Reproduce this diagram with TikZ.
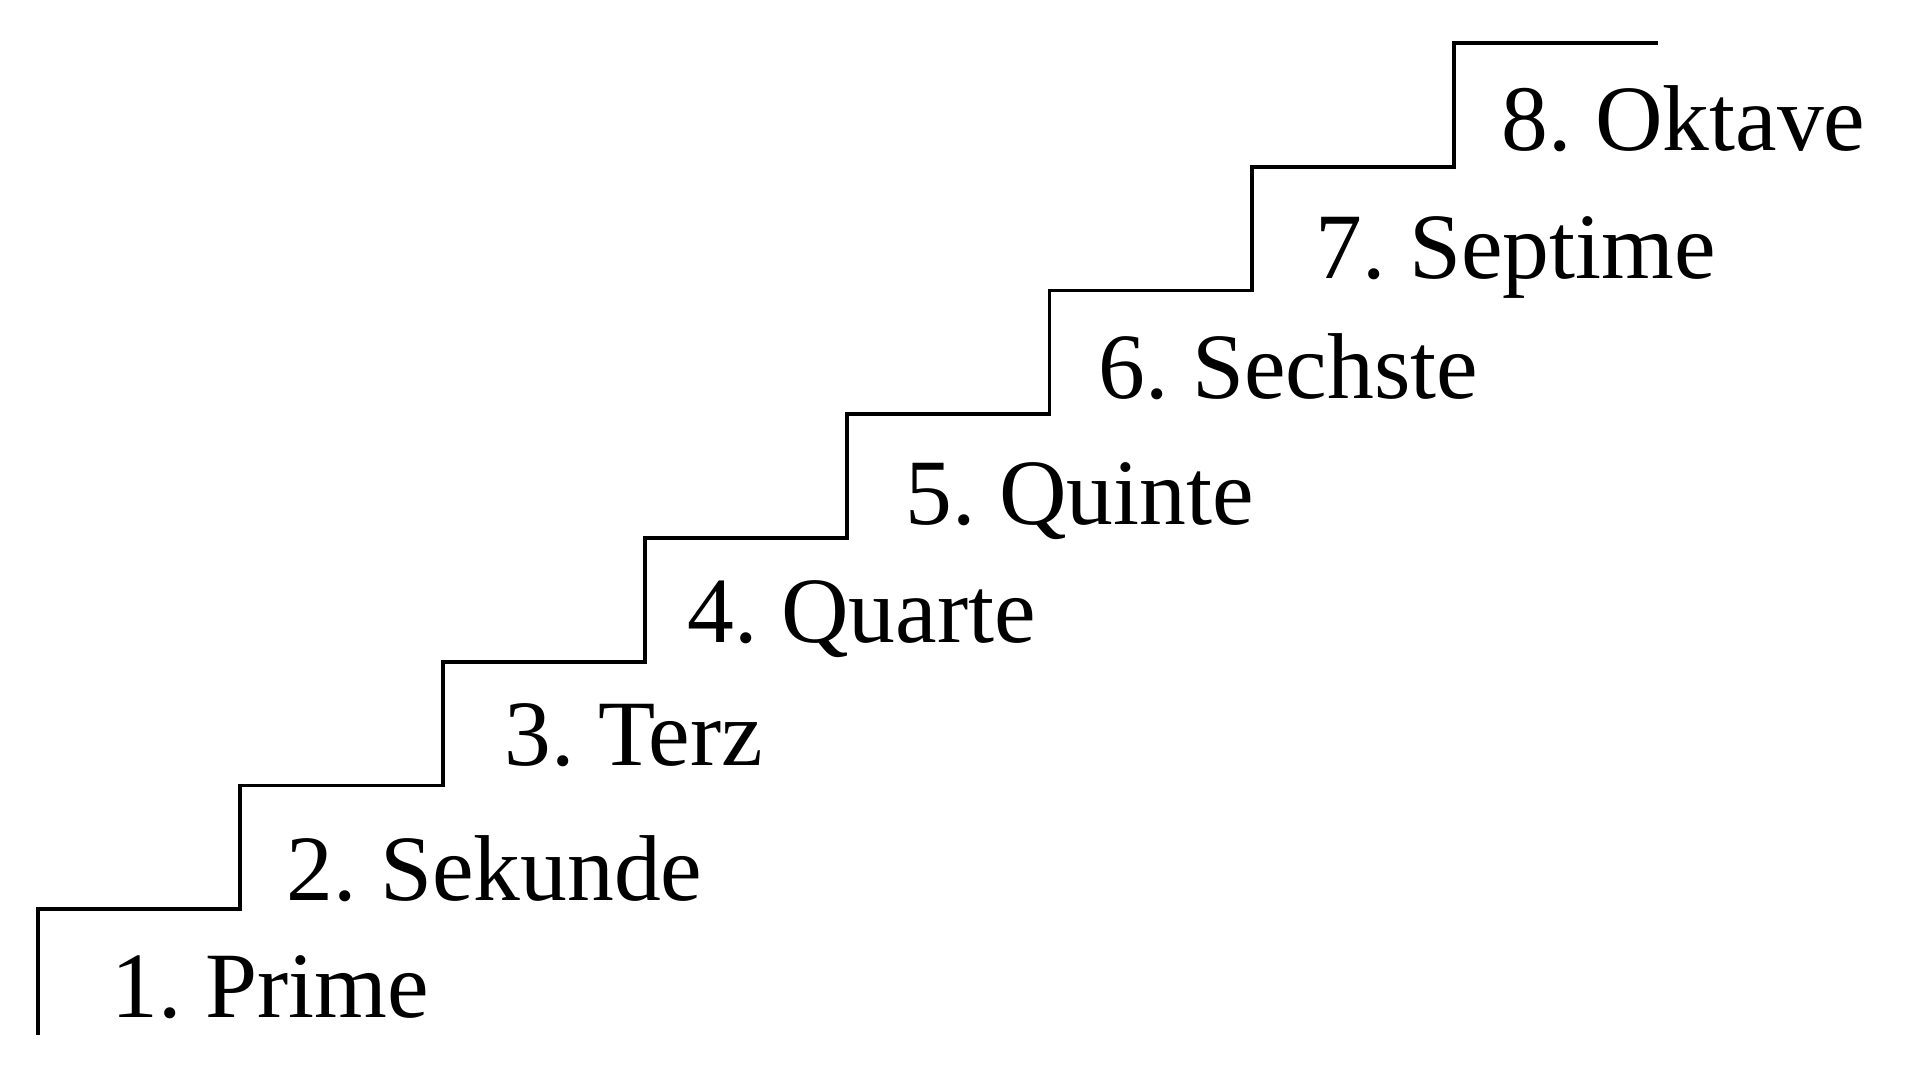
\documentclass[tikz,border=0pt]{standalone}
\usepackage{fontspec}
\setmainfont{Liberation Serif}
\frenchspacing

\begin{document}
\begin{tikzpicture}[x=0.01cm,y=-0.01cm]
    \tikzstyle{stair}=[draw=black,line width=1.1pt,line cap=rect,line join=miter]
    \tikzstyle{stepname}=[anchor=base west,inner sep=0pt,font=\fontsize{26.6}{30}\selectfont]
    \useasboundingbox (0,0) rectangle (1919,1075);

    \draw[stair] (38,1033) \foreach \i in {0,...,7} { -- ++(0,-123.75) -- ++(202.3,0) };

    \foreach \num/\x/\y/\name in {1/111/1017/Prime, 2/286/900/Sekunde, 3/504/765/Terz,
            4/687/642/Quarte, 5/905/524/Quinte, 6/1098/398/Sechste,
            7/1315/278/Septime, 8/1501/150/Oktave}
        \node[stepname] (S-\num) at (\x,\y) {\num. \name};
\end{tikzpicture}
\end{document}
